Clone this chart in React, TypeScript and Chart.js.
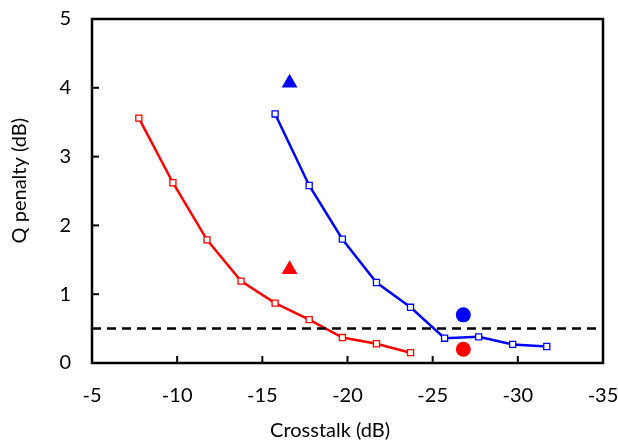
import React, { useEffect, useRef } from "react";
import { Chart, registerables } from "chart.js";

Chart.register(...registerables);

const redX = [-7.75, -9.75, -11.75, -13.75, -15.75, -17.75, -19.7, -21.7, -23.7];
const redY = [3.56, 2.62, 1.79, 1.19, 0.87, 0.63, 0.37, 0.28, 0.15];
const blueX = [-15.75, -17.75, -19.7, -21.7, -23.7, -25.7, -27.7, -29.7, -31.7];
const blueY = [3.62, 2.58, 1.8, 1.17, 0.81, 0.36, 0.38, 0.27, 0.24];
const redTriangle = { x: -16.6, y: 1.36 };
const blueTriangle = { x: -16.6, y: 4.07 };
const redCircle = { x: -26.8, y: 0.2 };
const blueCircle = { x: -26.8, y: 0.7 };
const thresholdY = 0.5;
const xRange = [-35, -5];
const yRange = [0, 5];
const xTitle = "Crosstalk (dB)";
const yTitle = "Q penalty (dB)";

const FONT = "Lato, 'Open Sans', sans-serif";
const FONT_SIZE = 20;

const framePlugin = {
  id: "frame",
  afterDraw(chart: any) {
    const { ctx, chartArea } = chart;
    const xs = chart.scales.x;
    const ys = chart.scales.y;
    ctx.save();
    ctx.strokeStyle = "#000";
    ctx.lineWidth = 2.5;
    ctx.strokeRect(chartArea.left, chartArea.top, chartArea.right - chartArea.left, chartArea.bottom - chartArea.top);
    ctx.lineWidth = 2;
    const len = 7;
    for (const t of xs.ticks) {
      const px = xs.getPixelForValue(t.value);
      ctx.beginPath();
      ctx.moveTo(px, chartArea.bottom);
      ctx.lineTo(px, chartArea.bottom - len);
      ctx.stroke();
    }
    for (const t of ys.ticks) {
      const py = ys.getPixelForValue(t.value);
      ctx.beginPath();
      ctx.moveTo(chartArea.left, py);
      ctx.lineTo(chartArea.left + len, py);
      ctx.stroke();
    }
    // axis titles
    ctx.fillStyle = "#000";
    ctx.font = `${FONT_SIZE}px ${FONT}`;
    ctx.textAlign = "center";
    ctx.textBaseline = "middle";
    const w = chartArea.right - chartArea.left;
    const h = chartArea.bottom - chartArea.top;
    ctx.fillText(xTitle, chartArea.left + w * 0.466, chartArea.bottom + 68);
    ctx.translate(20, chartArea.top + h * 0.47);
    ctx.rotate(-Math.PI / 2);
    ctx.fillText(yTitle, 0, 0);
    ctx.restore();
  },
};

export default function App() {
  const ref = useRef<HTMLCanvasElement>(null);
  useEffect(() => {
    document.body.style.margin = "0";
    const toPts = (xs: number[], ys: number[]) => xs.map((x, i) => ({ x, y: ys[i] }));
    const chart = new Chart(ref.current!, {
      type: "scatter",
      data: {
        datasets: [
          {
            data: [{ x: xRange[1], y: thresholdY }, { x: xRange[0], y: thresholdY }],
            showLine: true,
            borderColor: "#000",
            borderWidth: 2.5,
            borderDash: [9, 6],
            pointRadius: 0,
          },
          {
            data: toPts(redX, redY),
            showLine: true,
            borderColor: "#ff0000",
            borderWidth: 2.5,
            pointStyle: "rect",
            pointRadius: 4.3,
            pointBorderWidth: 1.3,
            pointBackgroundColor: "#fff",
            pointBorderColor: "#ff0000",
          },
          {
            data: toPts(blueX, blueY),
            showLine: true,
            borderColor: "#0000ff",
            borderWidth: 2.5,
            pointStyle: "rect",
            pointRadius: 4.3,
            pointBorderWidth: 1.3,
            pointBackgroundColor: "#fff",
            pointBorderColor: "#0000ff",
          },
          {
            data: [redTriangle],
            pointStyle: "triangle",
            pointRadius: 9.2,
            pointBorderWidth: 0,
            pointBackgroundColor: "#ff0000",
            pointBorderColor: "#ff0000",
          },
          {
            data: [blueTriangle],
            pointStyle: "triangle",
            pointRadius: 9.2,
            pointBorderWidth: 0,
            pointBackgroundColor: "#0000ff",
            pointBorderColor: "#0000ff",
          },
          {
            data: [redCircle],
            pointStyle: "circle",
            pointRadius: 7.5,
            pointBorderWidth: 0,
            pointBackgroundColor: "#ff0000",
            pointBorderColor: "#ff0000",
          },
          {
            data: [blueCircle],
            pointStyle: "circle",
            pointRadius: 7.5,
            pointBorderWidth: 0,
            pointBackgroundColor: "#0000ff",
            pointBorderColor: "#0000ff",
          },
        ],
      },
      options: {
        responsive: false,
        animation: false,
        layout: { padding: { top: 19, right: 15, left: 0, bottom: 0 } },
        plugins: { legend: { display: false }, tooltip: { enabled: false } },
        scales: {
          x: {
            type: "linear",
            reverse: true,
            min: xRange[0],
            max: xRange[1],
            ticks: { stepSize: 5, color: "#000", font: { family: FONT, size: FONT_SIZE }, padding: 21 },
            grid: { display: false, drawTicks: false },
            border: { display: false },
            title: { display: false },
            afterFit(scale: any) {
              scale.height = 79;
              scale.paddingLeft = 0;
              scale.paddingRight = 0;
            },
          },
          y: {
            type: "linear",
            min: yRange[0],
            max: yRange[1],
            ticks: { stepSize: 1, color: "#000", font: { family: FONT, size: FONT_SIZE }, padding: 21 },
            grid: { display: false, drawTicks: false },
            border: { display: false },
            title: { display: false },
            afterFit(scale: any) {
              scale.width = 92;
              scale.paddingTop = 0;
              scale.paddingBottom = 0;
            },
          },
        },
      },
      plugins: [framePlugin],
    });
    return () => chart.destroy();
  }, []);
  return <canvas ref={ref} width={618} height={442} style={{ display: "block" }} />;
}
